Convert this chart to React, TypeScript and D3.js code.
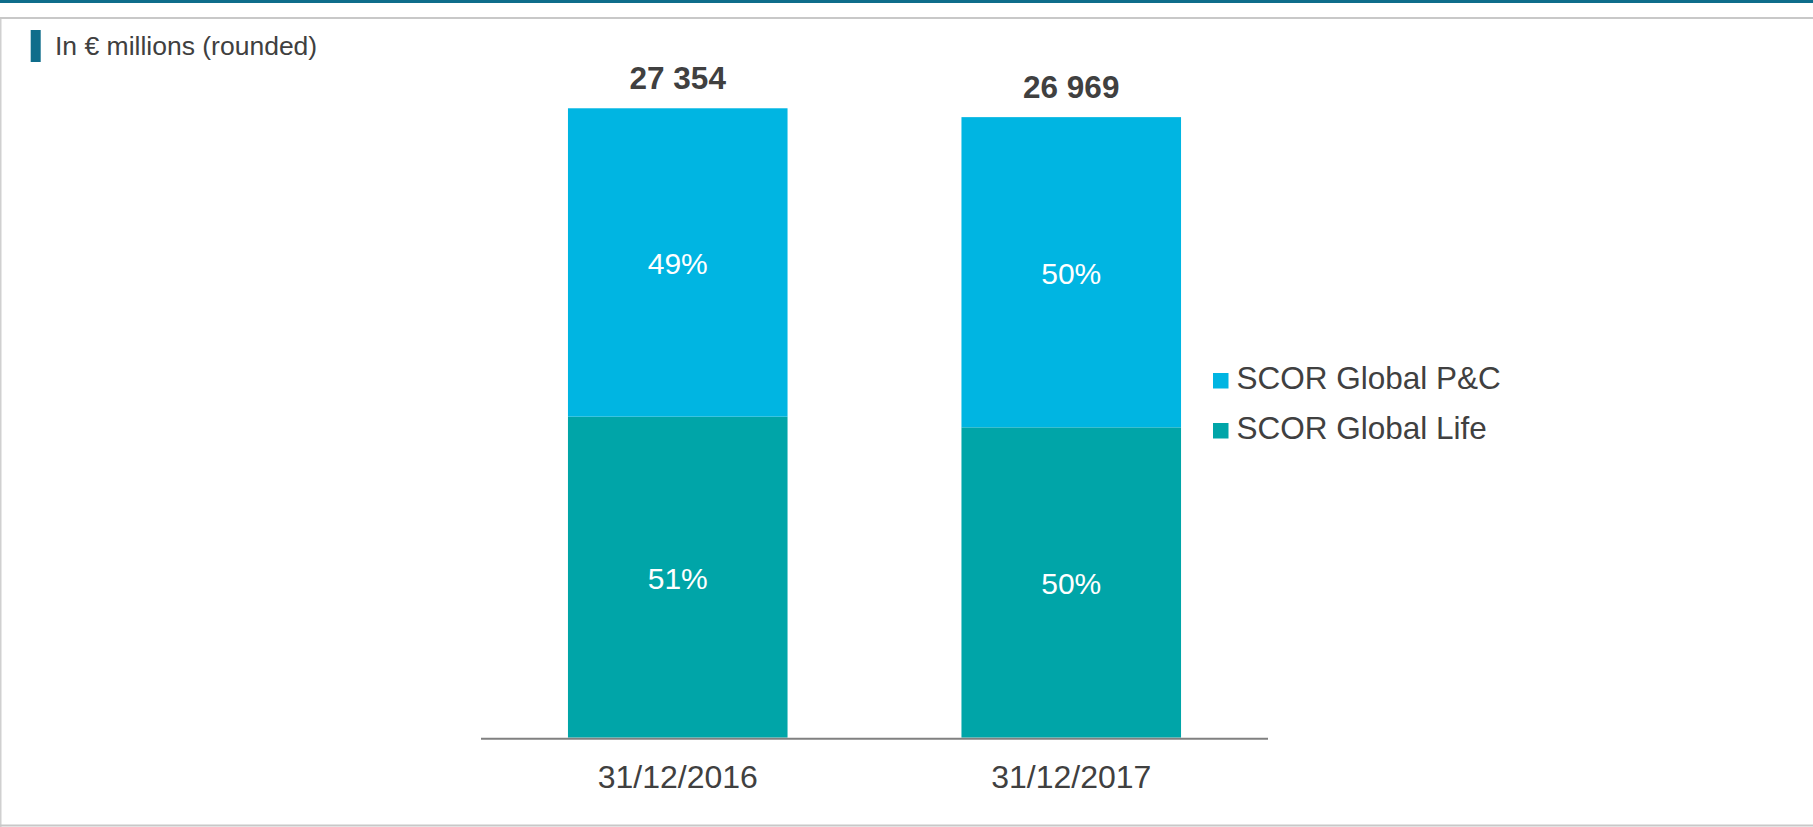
import React from "react";
import * as d3 from "d3";

const categories = ["31/12/2016", "31/12/2017"];
const totals = [27354, 26969];
const lifeValues = [13950, 13485];
const pcValues = [13404, 13484];
const lifePct = ["51%", "50%"];
const pcPct = ["49%", "50%"];
const seriesNames = ["SCOR Global P&C", "SCOR Global Life"];
const seriesColors = ["#00b5e2", "#00a5a8"];
const unitLabel = "In \u20AC millions (rounded)";

const W = 1813;
const H = 827;

export default function App() {
  const x = d3.scaleBand<string>().domain(categories).range([481, 1268]).paddingInner(0.442).paddingOuter(0.221);
  const y = d3.scaleLinear().domain([0, 30000]).range([737.6, 47.4]);
  const fmt = (v: number) => d3.format(",")(v).replace(/,/g, " ");
  const font = "'Liberation Sans', Arial, sans-serif";
  return (
    <svg width={W} height={H} style={{ position: "absolute", left: 0, top: 0, background: "#fff" }}>
      <rect x={0} y={0} width={W} height={3} fill="#0f6d8b" />
      <rect x={0} y={17} width={W} height={2} fill="#c8c8c8" />
      <rect x={0} y={19} width={1.5} height={H - 19} fill="#d0d0d0" />
      <rect x={0} y={824.5} width={W} height={2} fill="#c8c8c8" />
      <rect x={30.7} y={30} width={10} height={32} fill="#0f6d8b" />
      <text x={55} y={55} fontFamily={font} fontSize={26.5} fill="#404040">{unitLabel}</text>
      {categories.map((c, i) => {
        const bx = x(c)!;
        const bw = x.bandwidth();
        const cx = bx + bw / 2;
        const yLifeTop = y(lifeValues[i]);
        const yTop = y(lifeValues[i] + pcValues[i]);
        return (
          <g key={c}>
            <rect x={bx} y={yLifeTop} width={bw} height={y(0) - yLifeTop} fill={seriesColors[1]} />
            <rect x={bx} y={yTop} width={bw} height={yLifeTop - yTop} fill={seriesColors[0]} />
            <text x={cx} y={(y(0) + yLifeTop) / 2 + 12} textAnchor="middle" fontFamily={font} fontSize={30} fill="#fff">{lifePct[i]}</text>
            <text x={cx} y={(yLifeTop + yTop) / 2 + 12} textAnchor="middle" fontFamily={font} fontSize={30} fill="#fff">{pcPct[i]}</text>
            <text x={cx} y={y(totals[i]) - 19} textAnchor="middle" fontFamily={font} fontWeight="bold" fontSize={31.5} fill="#404040">{fmt(totals[i])}</text>
            <text x={cx} y={788.3} textAnchor="middle" fontFamily={font} fontSize={32} fill="#404040">{c}</text>
          </g>
        );
      })}
      <line x1={481} x2={1268} y1={y(0) + 1.1} y2={y(0) + 1.1} stroke="#808080" strokeWidth={2} />
      {seriesNames.map((s, i) => (
        <g key={s}>
          <rect x={1213} y={373 + i * 50} width={15.5} height={15.5} fill={seriesColors[i]} />
          <text x={1236.5} y={389.3 + i * 49.5} fontFamily={font} fontSize={31.5} fill="#404040">{s}</text>
        </g>
      ))}
    </svg>
  );
}
